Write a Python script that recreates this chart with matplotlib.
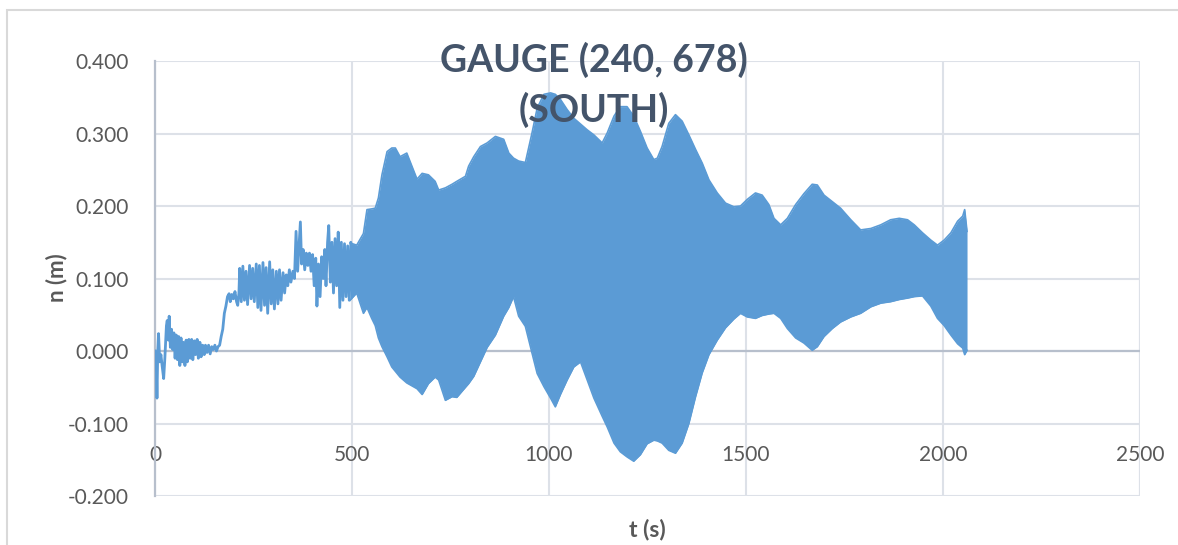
import matplotlib
matplotlib.use("Agg")
import matplotlib.pyplot as plt
from matplotlib.patches import Rectangle

# ---------------- data ----------------
title_text = "GAUGE (240, 678)\n(SOUTH)"
x_label = "t (s)"
y_label = "n (m)"
x_ticks = [0, 500, 1000, 1500, 2000, 2500]
y_ticks = [-0.2, -0.1, 0.0, 0.1, 0.2, 0.3, 0.4]

# early part of the record (individual oscillations still visible)
early_t = [0, 3, 5, 7, 9, 12, 15, 18, 22, 25, 29, 31, 34, 36, 39, 42, 45, 48, 51,
           54, 57, 60, 63, 66, 69, 72, 76, 79, 82, 86, 89, 93, 96, 100, 103, 107,
           110, 114, 117, 121, 125, 128, 132, 136, 140, 144, 148, 152, 156, 160,
           164, 168, 172, 176, 180, 184, 188, 191, 195, 199, 203, 207, 210, 213,
           215, 219, 223, 227, 231, 235, 240, 244, 248, 252, 257, 261, 265, 269,
           274, 278, 282, 286, 291, 295, 299, 303, 308, 312, 316, 320, 325, 329,
           333, 337, 341, 345, 350, 354, 358, 362, 366, 369, 372, 376, 380, 384,
           388, 392, 396, 400, 404, 408, 411, 415, 419, 423, 427, 431, 434, 438,
           441, 445, 449, 453, 457, 461, 465, 469, 473, 477, 481, 485, 489, 493,
           497, 501]
early_v = [0.000, -0.010, -0.065, 0.000, 0.024, -0.015, -0.005, -0.020, -0.038,
           -0.010, 0.035, 0.042, 0.015, 0.048, 0.005, 0.030, 0.002, 0.025, -0.010,
           0.022, -0.012, 0.020, -0.020, 0.018, -0.015, 0.012, -0.020, 0.015,
           -0.015, 0.016, -0.010, 0.016, -0.012, 0.014, -0.005, 0.016, -0.010,
           0.012, -0.008, 0.008, -0.005, 0.008, -0.002, 0.008, -0.004, 0.006,
           0.002, 0.008, 0.000, 0.006, 0.008, 0.020, 0.030, 0.052, 0.062, 0.075,
           0.079, 0.068, 0.078, 0.072, 0.082, 0.068, 0.063, 0.080, 0.114, 0.068,
           0.117, 0.070, 0.110, 0.064, 0.118, 0.072, 0.114, 0.068, 0.120, 0.060,
           0.118, 0.056, 0.122, 0.063, 0.115, 0.052, 0.123, 0.065, 0.112, 0.058,
           0.110, 0.065, 0.112, 0.070, 0.108, 0.080, 0.105, 0.090, 0.112, 0.095,
           0.110, 0.100, 0.165, 0.110, 0.150, 0.178, 0.120, 0.140, 0.112, 0.135,
           0.118, 0.135, 0.110, 0.133, 0.090, 0.128, 0.062, 0.120, 0.075, 0.130,
           0.100, 0.140, 0.090, 0.150, 0.173, 0.095, 0.150, 0.080, 0.155, 0.090,
           0.164, 0.060, 0.150, 0.070, 0.148, 0.075, 0.145, 0.070, 0.150, 0.080]

# later part: dense oscillation, given as upper / lower envelope
env_t = [495, 512, 529, 538, 550, 559, 567, 576, 589, 601, 610, 622, 639, 652,
         665, 678, 694, 711, 720, 737, 754, 766, 788, 796, 809, 826, 843, 864,
         885, 898, 910, 923, 940, 957, 970, 987, 1004, 1016, 1029, 1046, 1063,
         1080, 1097, 1114, 1135, 1148, 1165, 1181, 1198, 1215, 1232, 1249, 1266,
         1275, 1287, 1304, 1321, 1338, 1355, 1372, 1389, 1406, 1427, 1448, 1469,
         1486, 1503, 1524, 1541, 1558, 1571, 1588, 1605, 1626, 1647, 1668, 1681,
         1698, 1719, 1740, 1766, 1791, 1817, 1842, 1867, 1889, 1910, 1927, 1948,
         1969, 1986, 2003, 2020, 2037, 2050, 2055, 2061]
env_upper = [0.149, 0.146, 0.162, 0.195, 0.196, 0.197, 0.211, 0.243, 0.275,
             0.280, 0.280, 0.268, 0.273, 0.255, 0.237, 0.245, 0.243, 0.234,
             0.222, 0.225, 0.230, 0.234, 0.241, 0.255, 0.268, 0.282, 0.287,
             0.296, 0.292, 0.273, 0.266, 0.262, 0.260, 0.301, 0.335, 0.354,
             0.356, 0.354, 0.347, 0.333, 0.321, 0.313, 0.305, 0.298, 0.287,
             0.301, 0.324, 0.337, 0.337, 0.324, 0.303, 0.280, 0.264, 0.266,
             0.282, 0.314, 0.326, 0.317, 0.298, 0.278, 0.259, 0.236, 0.218,
             0.204, 0.199, 0.200, 0.209, 0.218, 0.215, 0.202, 0.183, 0.174,
             0.183, 0.202, 0.217, 0.230, 0.229, 0.215, 0.206, 0.197, 0.181,
             0.167, 0.169, 0.174, 0.181, 0.183, 0.181, 0.174, 0.163, 0.153,
             0.146, 0.153, 0.163, 0.179, 0.186, 0.195, 0.165]
env_lower = [0.070, 0.080, 0.052, 0.060, 0.045, 0.035, 0.018, 0.006, -0.008,
             -0.022, -0.028, -0.036, -0.044, -0.048, -0.052, -0.060, -0.045,
             -0.036, -0.040, -0.068, -0.063, -0.064, -0.050, -0.045, -0.035,
             -0.015, 0.005, 0.022, 0.048, 0.060, 0.075, 0.048, 0.034, -0.003,
             -0.031, -0.049, -0.065, -0.077, -0.060, -0.040, -0.022, -0.015,
             -0.040, -0.065, -0.090, -0.105, -0.127, -0.139, -0.146, -0.152,
             -0.143, -0.128, -0.123, -0.124, -0.127, -0.137, -0.141, -0.127,
             -0.100, -0.063, -0.030, -0.005, 0.015, 0.032, 0.044, 0.052, 0.047,
             0.045, 0.049, 0.051, 0.052, 0.045, 0.031, 0.018, 0.011, 0.001,
             0.006, 0.020, 0.031, 0.040, 0.047, 0.052, 0.061, 0.066, 0.068,
             0.071, 0.073, 0.075, 0.076, 0.062, 0.045, 0.035, 0.022, 0.010,
             0.004, -0.005, 0.001]

# ---------------- styling ----------------
LINE = "#5B9BD5"
GRID = "#DDE1E8"
AXIS = "#B7BFCC"
TICK = "#595959"
TITLE = "#44546A"
FONT = ["Lato", "DejaVu Sans"]

W, H = 1178, 545
fig = plt.figure(figsize=(W / 100, H / 100), dpi=100)
plt.rcParams["font.family"] = FONT

# chart-area border (top and left visible)
fig.patches.append(Rectangle((7 / W, -0.2), 1.2, 1 - 10 / H + 0.2,
                             transform=fig.transFigure, fill=False,
                             edgecolor="#D9D9D9", lw=1.5, zorder=0))

ax = fig.add_axes([155 / W, 1 - 496 / H, (1140 - 155) / W, (496 - 61) / H])
ax.set_xlim(0, 2500)
ax.set_ylim(-0.2, 0.4)

for side in ["top", "right", "bottom"]:
    ax.spines[side].set_visible(False)
ax.spines["left"].set_color(AXIS)
ax.spines["left"].set_linewidth(1.6)

ax.set_xticks(x_ticks)
ax.set_yticks(y_ticks)
ax.set_xticklabels([str(v) for v in x_ticks])
ax.set_yticklabels([f"{v:.3f}" for v in y_ticks])
ax.tick_params(axis="both", length=0, labelsize=15, labelcolor=TICK)
ax.tick_params(axis="y", pad=19)
ax.tick_params(axis="x", pad=-37)

ax.grid(True, color=GRID, lw=1.5, zorder=0)
ax.set_axisbelow(True)
ax.axhline(0, color=AXIS, lw=1.6, zorder=1)
ax.axvline(2500, color=GRID, lw=1.5, zorder=0)

# data
ax.plot(early_t, early_v, color=LINE, lw=2.0, zorder=3)
ax.fill_between(env_t, env_lower, env_upper, color=LINE, lw=0, zorder=3)
ax.plot(env_t, env_upper, color=LINE, lw=1.2, zorder=3)
ax.plot(env_t, env_lower, color=LINE, lw=1.2, zorder=3)

# labels
line1, line2 = title_text.split("\n")
fig.text(594 / W, 1 - 60 / H, line1, ha="center", va="center",
         fontsize=27, fontweight="bold", color=TITLE, family=FONT, zorder=5)
fig.text(594 / W, 1 - 110 / H, line2, ha="center", va="center",
         fontsize=27, fontweight="bold", color=TITLE, family=FONT, zorder=5)
fig.text(57 / W, 1 - 278 / H, y_label, ha="center", va="center", rotation=90,
         fontsize=16, fontweight="bold", color=TICK, family=FONT)
fig.text(647 / W, 1 - 530 / H, x_label, ha="center", va="center",
         fontsize=16.5, fontweight="bold", color=TICK, family=FONT)

fig.savefig("out.png", dpi=100)
